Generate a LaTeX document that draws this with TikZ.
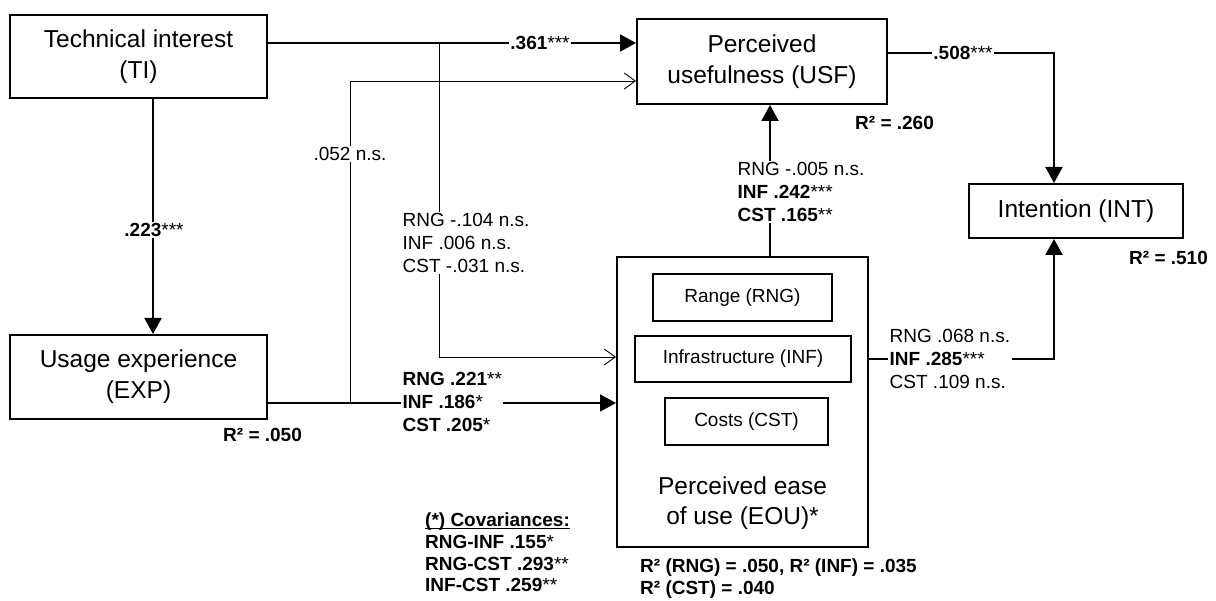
\documentclass[tikz,border=0pt]{standalone}
\usepackage{fontspec}
\setmainfont{Liberation Sans}
\usetikzlibrary{arrows.meta}
\newcommand\strs[1]{{\mdseries #1}}
\begin{document}
\begin{tikzpicture}[x=1pt,y=-1pt,
  box/.style={draw, line width=2pt, inner sep=0pt, align=center, font=\fontsize{24.5}{31}\selectfont},
  subbox/.style={draw, line width=2pt, inner sep=0pt, font=\fontsize{19}{22}\selectfont},
  thk/.style={line width=2pt},
  thn/.style={line width=0.9pt},
  thkarr/.style={thk, -{Triangle[length=16pt,width=17pt]}},
  thnarr/.style={thn, -{Straight Barb[length=11pt,width=16pt]}},
  lbl/.style={fill=white, inner sep=1.5pt, align=left, font=\fontsize{19}{23}\selectfont},
  bld/.style={font=\bfseries\fontsize{19}{23}\selectfont},
  rsq/.style={inner sep=0pt, align=left, anchor=west, font=\bfseries\fontsize{19}{22}\selectfont}]
\useasboundingbox (0,0) rectangle (1216,601);
\fill[white] (0,0) rectangle (1216,601);

% boxes
\node[box, minimum width=257pt, minimum height=83pt] (TI) at (138.5,56.5) {Technical interest\\(TI)};
\node[box, minimum width=257pt, minimum height=84pt] (EXP) at (138.5,377) {Usage experience\\(EXP)};
\node[box, minimum width=250pt, minimum height=85pt] (USF) at (762,61.5) {Perceived\\usefulness (USF)};
\node[box, minimum width=214pt, minimum height=54pt] (INT) at (1076,211) {Intention (INT)};
\node[box, minimum width=251pt, minimum height=290pt] (EOU) at (742.5,402) {};
\node[align=center, inner sep=0pt, font=\fontsize{24.5}{30}\selectfont] (EOUt) at (742.5,503) {Perceived ease\\of use (EOU)*};
\node[subbox, minimum width=179pt, minimum height=47pt] (RNG) at (742.5,297.5) {Range (RNG)};
\node[subbox, minimum width=216pt, minimum height=46pt] (INF) at (743,359) {Infrastructure (INF)};
\node[subbox, minimum width=163pt, minimum height=47pt] (CST) at (746.5,421.5) {Costs (CST)};

% helper coordinates
\coordinate (jTI) at (439,43);
\coordinate (jEXP) at (350,403);
\coordinate (bEU) at (350,81);
\coordinate (bTE) at (439,357);
\coordinate (xTE) at (153,0);
\coordinate (xEU) at (770,0);
\coordinate (cUI) at (1054,53);
\coordinate (cEI) at (1054,359);

% connectors
\draw[thkarr] (TI.east |- jTI) -- (USF.west |- jTI);
\draw[thkarr] (TI.south -| xTE) -- (EXP.north -| xTE);
\draw[thkarr] (EXP.east |- jEXP) -- (EOU.west |- jEXP);
\draw[thnarr] (jEXP) -- (bEU) -- (USF.west |- bEU);
\draw[thnarr] (jTI) -- (bTE) -- (EOU.west |- bTE);
\draw[thkarr] (EOU.north -| xEU) -- (USF.south -| xEU);
\draw[thkarr] (USF.east |- cUI) -- (cUI) -- (INT.north -| cUI);
\draw[thkarr] (EOU.east |- cEI) -- (cEI) -- (INT.south -| cEI);

% path labels
\node[lbl, bld] (l361) at (540,43) {.361\strs{***}};
\node[lbl, bld] (l223) at (154,230) {.223\strs{***}};
\node[lbl] (l052) at (350,154) {.052 n.s.};
\node[lbl, anchor=west] (lTE) at (401,243) {RNG -.104 n.s.\\INF .006 n.s.\\CST -.031 n.s.};
\node[lbl, bld, anchor=west] (lEE) at (401,402) {RNG .221\strs{**}\\INF .186\strs{*}\\CST .205\strs{*}};
\node[lbl, anchor=west] (lEU) at (736,192) {RNG -.005 n.s.\\\textbf{INF .242}\strs{***}\\\textbf{CST .165}\strs{**}};
\node[lbl, bld] (l508) at (963,53) {.508\strs{***}};
\node[lbl, anchor=west] (lEI) at (888,359) {RNG .068 n.s.\\\textbf{INF .285}\strs{***}\\CST .109 n.s.};

% R squared
\node[rsq] (r260) at (855,123) {R² = .260};
\node[rsq] (r510) at (1129,258) {R² = .510};
\node[rsq] (r050) at (223,435) {R² = .050};
\node[rsq] (rEOU) at (640,579) {R² (RNG) = .050, R² (INF) = .035\\R² (CST) = .040};

% covariances
\node[rsq, font=\bfseries\fontsize{19}{21.7}\selectfont] (cov) at (425,559.5) {\underline{\smash{(*) Covariances:}}\\RNG-INF .155\strs{*}\\RNG-CST .293\strs{**}\\INF-CST .259\strs{**}};
\end{tikzpicture}
\end{document}
